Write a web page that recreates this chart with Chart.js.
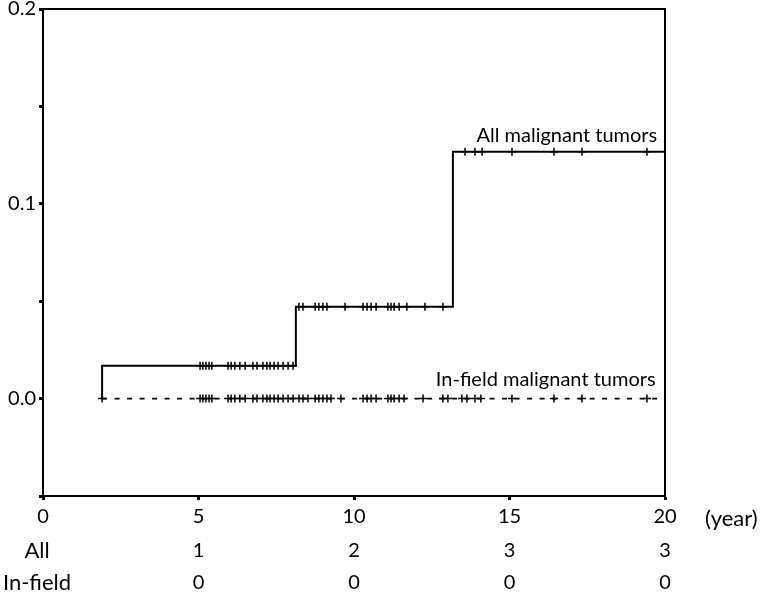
<!DOCTYPE html>
<html>
<head>
<meta charset="utf-8">
<script src="https://cdn.jsdelivr.net/npm/chart.js@4.4.1/dist/chart.umd.min.js"></script>
<style>
  html, body { margin: 0; padding: 0; background: #fff; }
  canvas { display: block; }
</style>
</head>
<body>
<canvas id="c" width="761" height="592"></canvas>
<script>
// ---- Data ----
// Cumulative incidence, "All malignant tumors" (step function)
const allStepTimes = [1.90, 1.90, 8.13, 13.18, 20.0];
const allStepCum   = [0.0, 0.0169, 0.0472, 0.1267, 0.1267];
// Censor marks on the "All" curve, by plateau
const allCensorLevel1 = [5.05, 5.14, 5.24, 5.34, 5.43, 5.95, 6.05, 6.17, 6.33, 6.50, 6.75, 6.88, 7.07, 7.20, 7.30, 7.43, 7.56, 7.72, 7.88, 8.04];
const allCensorLevel2 = [8.23, 8.36, 8.75, 8.87, 9.00, 9.13, 9.71, 10.29, 10.42, 10.55, 10.71, 11.09, 11.19, 11.29, 11.45, 11.70, 12.28, 12.86];
const allCensorLevel3 = [13.57, 13.89, 14.12, 15.08, 16.43, 17.33, 19.42];
const allLevels = [0.0169, 0.0472, 0.1267];

// "In-field malignant tumors": no events, stays at 0
const inStepTimes = [1.90, 20.0];
const inStepCum   = [0.0, 0.0];
const inCensor = [1.90, 5.05, 5.14, 5.24, 5.34, 5.43, 5.95, 6.05, 6.17, 6.33, 6.50, 6.75, 6.88, 7.07, 7.20, 7.30, 7.43, 7.56, 7.72, 7.88, 8.04,
  8.23, 8.36, 8.52, 8.75, 8.87, 9.00, 9.13, 9.26, 9.58, 10.29, 10.42, 10.55, 10.71, 11.09, 11.19, 11.29, 11.45, 11.61,
  12.22, 12.86, 13.02, 13.47, 13.63, 13.89, 14.08, 15.08, 16.43, 17.33, 19.42];

// Axis ticks
const xTicks = [0, 5, 10, 15, 20];
const yLabelled = [0.0, 0.1, 0.2];

// Table below the chart: cumulative number of events
const tableYears = [5, 10, 15, 20];
const tableRowNames = ['All', 'In-field'];
const tableAll = [1, 2, 3, 3];
const tableInField = [0, 0, 0, 0];

const seriesNames = ['All malignant tumors', 'In-field malignant tumors'];

// ---- Build datasets ----
const toPts = (xs, ys) => xs.map((x, i) => ({ x: x, y: ys[i] }));
const censorPts = (xs, level) => xs.map(x => ({ x: x, y: level }));

const FONT = 'Lato, "Open Sans", sans-serif';

const annot = {
  id: 'annot',
  afterDatasetsDraw(chart) {
    const { ctx, chartArea: a, scales: { x, y } } = chart;
    ctx.save();
    // box top & right
    ctx.strokeStyle = '#000';
    ctx.lineWidth = 2;
    ctx.beginPath();
    ctx.moveTo(a.left, a.top);
    ctx.lineTo(a.right, a.top);
    ctx.lineTo(a.right, a.bottom);
    ctx.stroke();

    ctx.fillStyle = '#000';
    // series labels
    ctx.font = '20px ' + FONT;
    ctx.textAlign = 'right';
    ctx.textBaseline = 'alphabetic';
    ctx.fillText(seriesNames[0], x.getPixelForValue(19.75), y.getPixelForValue(allLevels[2]) - 10);
    ctx.fillText(seriesNames[1], x.getPixelForValue(19.7), y.getPixelForValue(0) - 13);

    // (year)
    ctx.font = '22px ' + FONT;
    ctx.textAlign = 'left';
    ctx.textBaseline = 'middle';
    ctx.fillText('(year)', 705, 519);

    // table
    ctx.textAlign = 'center';
    const rows = [tableAll, tableInField];
    const rowY = [551, 583];
    rows.forEach((vals, r) => {
      ctx.font = '22px ' + FONT;
      ctx.fillText(tableRowNames[r], 37, rowY[r]);
      ctx.font = '20px ' + FONT;
      vals.forEach((v, i) => {
        ctx.fillText(String(v), x.getPixelForValue(tableYears[i]), rowY[r]);
      });
    });
    ctx.restore();
  }
};

const markStyle = {
  pointStyle: 'cross',
  pointRadius: 4,
  pointBorderWidth: 1.5,
  pointBorderColor: '#000',
  pointBackgroundColor: '#000',
  showLine: false
};

new Chart(document.getElementById('c'), {
  type: 'scatter',
  data: {
    datasets: [
      { label: seriesNames[0], data: toPts(allStepTimes, allStepCum), showLine: true, stepped: 'before',
        borderColor: '#000', borderWidth: 2, pointRadius: 0, fill: false },
      { label: seriesNames[1], data: toPts(inStepTimes, inStepCum), showLine: true,
        borderColor: '#000', borderWidth: 1.8, borderDash: [5, 7.5], pointRadius: 0, fill: false },
      Object.assign({ data: censorPts(allCensorLevel1, allLevels[0]) }, markStyle),
      Object.assign({ data: censorPts(allCensorLevel2, allLevels[1]) }, markStyle),
      Object.assign({ data: censorPts(allCensorLevel3, allLevels[2]) }, markStyle),
      Object.assign({ data: censorPts(inCensor, 0) }, markStyle)
    ]
  },
  options: {
    responsive: false,
    animation: false,
    devicePixelRatio: 1,
    layout: { padding: { top: 9, right: 96, left: 0, bottom: 0 } },
    plugins: { legend: { display: false }, tooltip: { enabled: false } },
    scales: {
      x: {
        type: 'linear', min: 0, max: 20,
        afterBuildTicks: s => { s.ticks = xTicks.map(v => ({ value: v })); },
        ticks: { color: '#000', font: { size: 20, family: FONT }, padding: 5, maxRotation: 0 },
        grid: { drawOnChartArea: false, drawTicks: true, tickLength: 4, tickWidth: 3, color: '#000' },
        border: { display: true, color: '#000', width: 2 },
        afterFit: s => { s.height = 96; s.paddingLeft = 0; s.paddingRight = 0; }
      },
      y: {
        type: 'linear', min: -0.05, max: 0.2,
        ticks: {
          stepSize: 0.05, color: '#000', font: { size: 20, family: FONT }, padding: 3,
          callback: v => {
            const hit = yLabelled.find(t => Math.abs(t - v) < 1e-9);
            return hit === undefined ? '' : hit.toFixed(1);
          }
        },
        grid: { drawOnChartArea: false, drawTicks: true, tickLength: 4, tickWidth: 3, color: '#000' },
        border: { display: true, color: '#000', width: 2 },
        afterFit: s => { s.width = 43; s.paddingTop = 0; s.paddingBottom = 0; }
      }
    }
  },
  plugins: [annot]
});
</script>
</body>
</html>
